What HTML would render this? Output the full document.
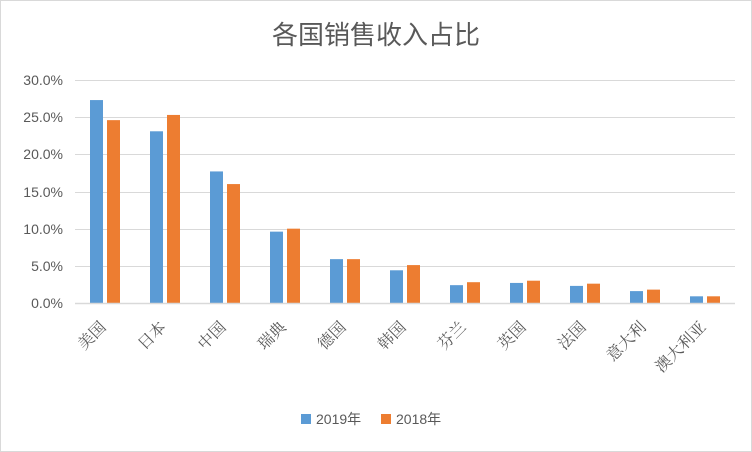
<!DOCTYPE html><html><head><meta charset="utf-8"><style>body{margin:0;background:#fff}svg{display:block}</style></head><body>
<svg width="752" height="452" xmlns="http://www.w3.org/2000/svg" font-family="'Liberation Sans','Noto Sans CJK SC',sans-serif">
<rect x="0.5" y="0.5" width="751" height="451" fill="#fff" stroke="#d9d9d9"/>
<text x="376" y="44" text-anchor="middle" font-size="26" fill="#595959">各国销售收入占比</text>
<g stroke="#d9d9d9" stroke-width="1">
<line x1="75" x2="735" y1="80.5" y2="80.5"/><line x1="75" x2="735" y1="117.5" y2="117.5"/><line x1="75" x2="735" y1="154.5" y2="154.5"/><line x1="75" x2="735" y1="192.5" y2="192.5"/><line x1="75" x2="735" y1="229.5" y2="229.5"/><line x1="75" x2="735" y1="266.5" y2="266.5"/>
</g>
<g font-size="14" fill="#595959" text-anchor="end">
<text x="63" y="85">30.0%</text><text x="63" y="122">25.0%</text><text x="63" y="159">20.0%</text><text x="63" y="197">15.0%</text><text x="63" y="234">10.0%</text><text x="63" y="271">5.0%</text><text x="63" y="308">0.0%</text>
</g>
<g fill="#5b9bd5">
<rect x="90" y="100.07" width="13" height="202.93"/>
<rect x="150" y="131.29" width="13" height="171.71"/>
<rect x="210" y="171.43" width="13" height="131.57"/>
<rect x="270" y="231.64" width="13" height="71.36"/>
<rect x="330" y="259.14" width="13" height="43.86"/>
<rect x="390" y="270.29" width="13" height="32.71"/>
<rect x="450" y="285.16" width="13" height="17.84"/>
<rect x="510" y="282.93" width="13" height="20.07"/>
<rect x="570" y="285.9" width="13" height="17.1"/>
<rect x="630" y="291.11" width="13" height="11.89"/>
<rect x="690" y="296.31" width="13" height="6.69"/>
</g>
<g fill="#ed7d31">
<rect x="107" y="120.14" width="13" height="182.86"/>
<rect x="167" y="114.94" width="13" height="188.06"/>
<rect x="227" y="184.07" width="13" height="118.93"/>
<rect x="287" y="228.67" width="13" height="74.33"/>
<rect x="347" y="259.14" width="13" height="43.86"/>
<rect x="407" y="265.09" width="13" height="37.91"/>
<rect x="467" y="282.19" width="13" height="20.81"/>
<rect x="527" y="280.7" width="13" height="22.3"/>
<rect x="587" y="283.67" width="13" height="19.33"/>
<rect x="647" y="289.62" width="13" height="13.38"/>
<rect x="707" y="296.31" width="13" height="6.69"/>
</g>
<line x1="75" x2="735" y1="303.5" y2="303.5" stroke="#d9d9d9" stroke-width="1.5"/>
<g font-size="16" fill="#595959" text-anchor="end" font-family="'Noto Serif CJK SC',serif">
<text transform="translate(107,328) rotate(-45)">美国</text>
<text transform="translate(167,328) rotate(-45)">日本</text>
<text transform="translate(227,328) rotate(-45)">中国</text>
<text transform="translate(287,328) rotate(-45)">瑞典</text>
<text transform="translate(347,328) rotate(-45)">德国</text>
<text transform="translate(407,328) rotate(-45)">韩国</text>
<text transform="translate(467,328) rotate(-45)">芬兰</text>
<text transform="translate(527,328) rotate(-45)">英国</text>
<text transform="translate(587,328) rotate(-45)">法国</text>
<text transform="translate(647,328) rotate(-45)">意大利</text>
<text transform="translate(707,328) rotate(-45)">澳大利亚</text>
</g>
<rect x="301" y="414" width="10" height="10" fill="#5b9bd5"/><text x="316" y="424" font-size="14" fill="#595959">2019年</text>
<rect x="381" y="414" width="10" height="10" fill="#ed7d31"/><text x="396" y="424" font-size="14" fill="#595959">2018年</text>
</svg></body></html>
